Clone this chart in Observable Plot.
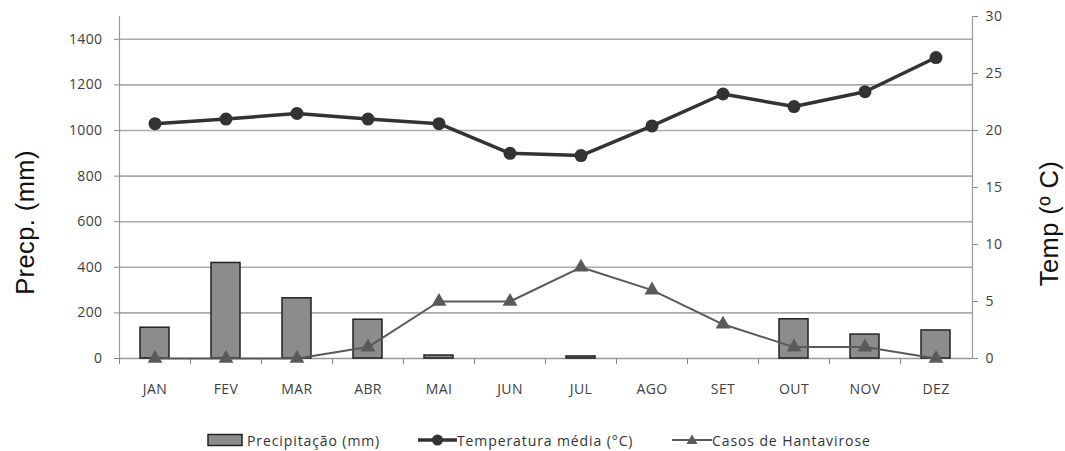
<!DOCTYPE html>
<html>
<head>
<meta charset="utf-8">
<script src="https://cdn.jsdelivr.net/npm/d3@7"></script>
<script src="https://cdn.jsdelivr.net/npm/@observablehq/plot@0.6"></script>
<style>
  html, body { margin: 0; padding: 0; background: #fff; }
  #wrap { position: relative; width: 1065px; height: 451px; overflow: hidden; }
  #legend { position: absolute; top: 430px; left: 0; width: 1065px; height: 20px;
            font-family: "Open Sans", sans-serif; font-size: 14px; letter-spacing: 0.9px; color: #333; }
  #legend .it { position: absolute; top: 0; display: flex; align-items: center; height: 20px; white-space: nowrap; }
  #legend svg { display: block; }
</style>
</head>
<body>
<div id="wrap">
  <div id="chart"></div>
  <div id="legend">
    <div class="it" style="left:207px">
      <svg width="37" height="14"><rect x="1" y="1.5" width="34" height="11" fill="#8c8c8c" stroke="#222" stroke-width="1.5"/></svg>
      <span style="margin-left:3px">Precipitação (mm)</span>
    </div>
    <div class="it" style="left:418px">
      <svg width="39" height="14"><line x1="0" y1="7" x2="39" y2="7" stroke="#333" stroke-width="3.5"/><circle cx="19.5" cy="7" r="5.5" fill="#333"/></svg>
      <span>Temperatura média (°C)</span>
    </div>
    <div class="it" style="left:672px">
      <svg width="40" height="14"><line x1="0" y1="7" x2="40" y2="7" stroke="#5a5a5a" stroke-width="2"/><path d="M20,1.5 L25.5,11 L14.5,11 Z" fill="#5a5a5a"/></svg>
      <span>Casos de Hantavirose</span>
    </div>
  </div>
</div>
<script>
// ---- Data ----
const months = ["JAN","FEV","MAR","ABR","MAI","JUN","JUL","AGO","SET","OUT","NOV","DEZ"];
const precipitation = [135, 419, 264, 170, 13, 0, 9, 0, 0, 172, 105, 123];
const temperature = [20.6, 21.0, 21.5, 21.0, 20.6, 18.0, 17.8, 20.4, 23.2, 22.1, 23.4, 26.4];
const hantavirus = [0, 0, 0, 1, 5, 5, 8, 6, 3, 1, 1, 0];
const precipTicks = [0, 200, 400, 600, 800, 1000, 1200, 1400];
const precipGrid = [200, 400, 600, 800, 1000, 1200, 1400];
const tempTicks = [0, 5, 10, 15, 20, 25, 30];
const precipMax = 1500;
const tempMax = 30;

// ---- Build table ----
const k = precipMax / tempMax; // right axis -> left scale factor
const rows = months.map((m, i) => ({
  month: m,
  precip: precipitation[i],
  temp: temperature[i],
  hanta: hantavirus[i]
}));

const font = "Open Sans, sans-serif";
const tickColor = "#888";
const textColor = "#404040";
const titleFont = "Liberation Sans, Arial, sans-serif";

const chart = Plot.plot({
  width: 1065,
  height: 400,
  marginLeft: 119,
  marginRight: 93,
  marginTop: 16,
  marginBottom: 42,
  style: { fontFamily: font, fontSize: "14px", letterSpacing: "0.4px", color: textColor, background: "#fff" },
  x: { type: "band", domain: months, paddingInner: 0.585, paddingOuter: 0.2925, label: null },
  y: { domain: [0, precipMax], label: null },
  marks: [
    Plot.gridY(precipGrid, { stroke: "#aaa", strokeOpacity: 1, strokeWidth: 1.6 }),
    Plot.ruleY([0], { stroke: "#999", strokeWidth: 1.6 }),
    Plot.frame({ anchor: "left", stroke: "#999", strokeWidth: 1.2 }),
    Plot.frame({ anchor: "right", stroke: "#999", strokeWidth: 1.2 }),
    Plot.barY(rows, { x: "month", y: "precip", fill: "#8c8c8c", stroke: "#222", strokeWidth: 1.5 }),
    Plot.axisY(precipTicks, { anchor: "left", tickSize: 5, tickPadding: 12, stroke: tickColor, fill: textColor, tickFormat: d => String(d), label: null }),
    Plot.axisY(tempTicks.map(v => v * k), { anchor: "right", tickSize: 5, tickPadding: 8, stroke: tickColor, fill: textColor, tickFormat: d => String(d / k), label: null }),
    Plot.axisX({ tickSize: 0, tickPadding: 26, fill: textColor, label: null }),
    Plot.axisX({ tickSize: 6, tickFormat: () => "", dx: -35.5, stroke: tickColor, label: null }),
    Plot.line(rows, { x: "month", y: d => d.hanta * k, stroke: "#5a5a5a", strokeWidth: 2 }),
    Plot.dot(rows, { x: "month", y: d => d.hanta * k, symbol: "triangle", r: 5.5, fill: "#5a5a5a" }),
    Plot.line(rows, { x: "month", y: d => d.temp * k, stroke: "#333", strokeWidth: 3.5 }),
    Plot.dot(rows, { x: "month", y: d => d.temp * k, r: 6.5, fill: "#333" }),
    Plot.text(["Precp. (mm)"], { frameAnchor: "left", textAnchor: "middle", rotate: -90, dx: -94, dy: 35, fontSize: 25.5, fontFamily: titleFont, letterSpacing: "0px", fill: "#111" }),
    Plot.text(["Temp (º C)"], { frameAnchor: "right", textAnchor: "middle", rotate: -90, dx: 77, dy: 36, fontSize: 25.5, fontFamily: titleFont, letterSpacing: "1px", fill: "#111" })
  ]
});
document.getElementById("chart").appendChild(chart);
</script>
</body>
</html>
